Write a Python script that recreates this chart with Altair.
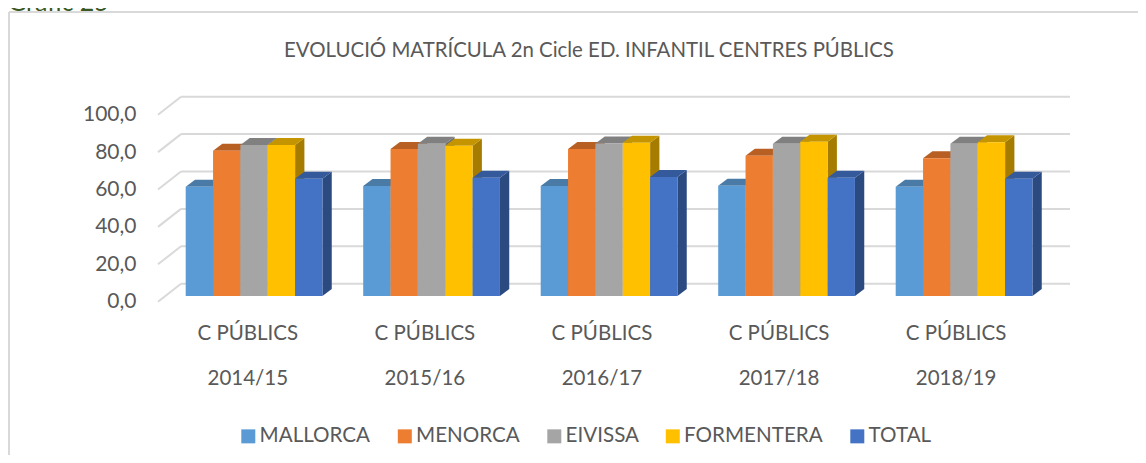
import altair as alt
import pandas as pd

# ---- values ----
periods = ["2014/15", "2015/16", "2016/17", "2017/18", "2018/19"]
group_label = "C PÚBLICS"
series = ["MALLORCA", "MENORCA", "EIVISSA", "FORMENTERA", "TOTAL"]
mallorca = [58.4, 58.8, 58.8, 59.0, 58.4]
menorca = [77.7, 78.6, 78.6, 75.0, 73.6]
eivissa = [80.7, 81.4, 81.6, 81.4, 81.4]
formentera = [80.7, 80.4, 82.0, 82.5, 82.2]
total = [62.7, 63.3, 63.6, 63.3, 62.7]
all_values = [mallorca, menorca, eivissa, formentera, total]
ticks = [0, 20, 40, 60, 80, 100]

front = ["#5B9BD5", "#ED7D31", "#A5A5A5", "#FFC000", "#4472C4"]
topc = ["#4A7BA7", "#B85F24", "#808080", "#C49500", "#345A9C"]
sidec = ["#3A6A94", "#9E5220", "#6E6E6E", "#A67C00", "#2B4A80"]
grid = "#D9D9D9"
ink = "#595959"
FONT = "Lato"

W, H = 1130, 447
PITCH = 177.5          # px per period on the x scale
PXV = 1.87             # px per value unit on the y scale
X0, Y0 = 177.7, 288.0  # where period 0 and value 0 fall in the svg
x_scale = alt.Scale(domain=[-X0 / PITCH, (W - X0) / PITCH], nice=False, zero=False, padding=0)
y_scale = alt.Scale(domain=[(Y0 - H) / PXV, Y0 / PXV], nice=False, zero=False, padding=0)

SLOT = 27.35 / PITCH
BDX, BDY = 9.3 / PITCH, 7.0 / PXV       # bar depth in scale units
WBASE = 6.58                            # back wall floor, in value units
WFRONT = -3.05                          # front edge of the floor
WX0, WX1, WXF = -0.0265, 4.982, -0.156  # back wall left/right, floor front-left

X = lambda f: alt.X(f, type="quantitative", scale=x_scale, axis=None)
Y = lambda f: alt.Y(f, type="quantitative", scale=y_scale)

layers = []

# value axis (native), nudged onto the front edge of the side wall
layers.append(
    alt.Chart(pd.DataFrame({"t": ticks})).mark_point(opacity=0).encode(
        x=alt.value(0),
        y=alt.Y(
            "t:Q",
            scale=y_scale,
            axis=alt.Axis(
                values=ticks,
                labelExpr="replace(format(datum.value,'.1f'),'.',',')",
                domain=False, ticks=False, grid=False, title=None,
                offset=-128, labelPadding=0, labelOffset=5.7,
                labelFont=FONT, labelFontSize=21, labelColor=ink, labelOverlap=False,
            ),
        ),
    )
)

# back wall gridlines + side-wall diagonals
grid_df = pd.DataFrame({"t": ticks})
grid_df["y"] = grid_df.t + WBASE
grid_df["x"] = WX0
grid_df["x2"] = WX1
layers.append(
    alt.Chart(grid_df).mark_rule(color=grid, strokeWidth=2).encode(
        x=X("x"), x2="x2", y=Y("y")
    )
)
diag = pd.DataFrame(
    [{"t": t, "x": WXF, "y": t + WFRONT, "k": 0} for t in ticks]
    + [{"t": t, "x": WX0, "y": t + WBASE, "k": 1} for t in ticks]
)
layers.append(
    alt.Chart(diag).mark_line(color=grid, strokeWidth=2).encode(
        x=X("x"), y=Y("y"), detail="t:N", order="k:Q"
    )
)

# bars: side, top, front per series in draw order
for si, (name, vals) in enumerate(zip(series, all_values)):
    side_rows, top_rows, front_rows = [], [], []
    for g, (p, v) in enumerate(zip(periods, vals)):
        l = g + si * SLOT
        r = l + SLOT
        side_rows += [
            {"g": g, "x": r, "low": 0, "high": v},
            {"g": g, "x": r + BDX, "low": BDY, "high": v + BDY},
        ]
        top_rows += [
            {"g": g, "y": v, "x": l, "x2": r},
            {"g": g, "y": v + BDY, "x": l + BDX, "x2": r + BDX},
        ]
        front_rows.append({"x": l, "x2": r, "value": v, "zero": 0, "series": name, "period": p})
    layers.append(
        alt.Chart(pd.DataFrame(side_rows)).mark_area(color=sidec[si]).encode(
            x=X("x"), y=Y("low"), y2="high", detail="g:N"
        )
    )
    layers.append(
        alt.Chart(pd.DataFrame(top_rows)).mark_area(color=topc[si], orient="horizontal").encode(
            y=Y("y"), x=X("x"), x2="x2", detail="g:N"
        )
    )
    layers.append(
        alt.Chart(pd.DataFrame(front_rows)).mark_bar().encode(
            x=X("x"), x2="x2", y=Y("value"), y2="zero",
            color=alt.Color(
                "series:N",
                scale=alt.Scale(domain=series, range=front),
                sort=series,
                legend=alt.Legend(
                    title=None, orient="none", legendX=230, legendY=418,
                    direction="horizontal", columns=5, symbolType="square",
                    symbolSize=196, symbolStrokeWidth=0, columnPadding=23.5,
                    labelFont=FONT, labelFontSize=20.6, labelColor=ink,
                    labelOffset=1, symbolOpacity=1,
                ),
            ),
        )
    )

# category labels (two rows under each group)
lab = pd.DataFrame({"x": [i * 0.9975 + 0.35 for i in range(5)], "p": periods, "c": [group_label] * 5})
for field, ypix in (("c", 326), ("p", 371)):
    layers.append(
        alt.Chart(lab).mark_text(font=FONT, fontSize=20.5, color=ink, baseline="middle").encode(
            x=X("x"), y=alt.value(ypix), text=f"{field}:N"
        )
    )

# panel border, and the caption above it
border = alt.Chart(pd.DataFrame({"a": [0]}))
layers.append(border.mark_rule(color=grid, strokeWidth=2).encode(
    x=alt.value(1), x2=alt.value(W), y=alt.value(4)))
layers.append(border.mark_rule(color=grid, strokeWidth=2).encode(
    x=alt.value(1), y=alt.value(4), y2=alt.value(H)))
layers.append(border.mark_text(font=FONT, fontSize=25, color="#385723", align="left",
                               baseline="alphabetic").encode(
    x=alt.value(0), y=alt.value(2.5), text=alt.value("Gràfic 25")))

chart = alt.layer(*layers).properties(
    width=W, height=H, padding=0,
    autosize=alt.AutoSizeParams(type="none"),
    title=alt.TitleParams(
        text="EVOLUCIÓ MATRÍCULA 2n Cicle ED. INFANTIL CENTRES PÚBLICS",
        anchor="middle", offset=-71, dx=16, font=FONT, fontSize=20.4,
        fontWeight="normal", color=ink,
    ),
).configure_view(stroke=None)

chart.save("out.html", embed_options={"renderer": "svg", "actions": False})
